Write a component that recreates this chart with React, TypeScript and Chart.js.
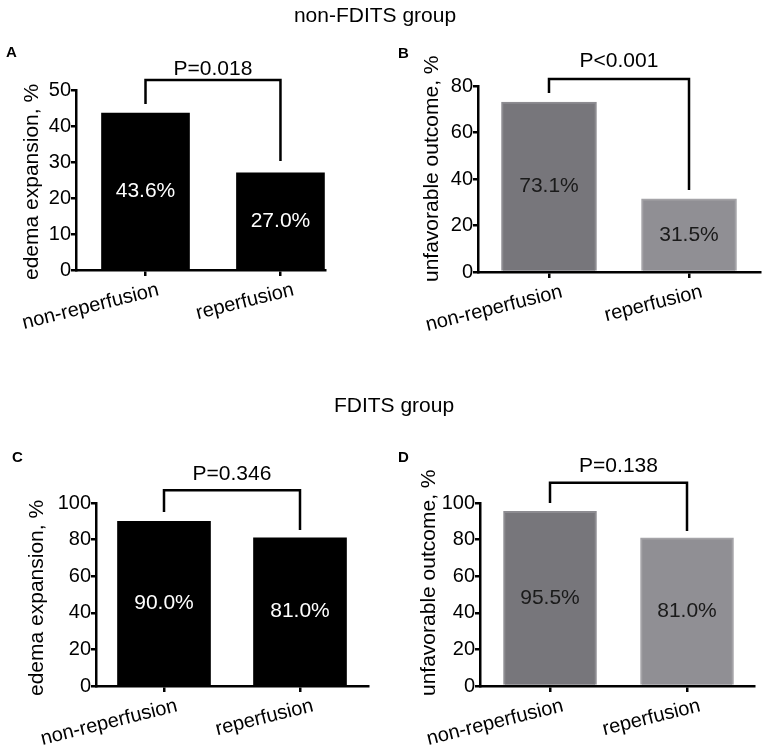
import { useEffect, useRef } from 'react';
import { Chart, registerables } from 'chart.js';

Chart.register(...registerables);

const FONT = "'Liberation Sans', Arial, Helvetica, sans-serif";

// data
const categories = ['non-reperfusion', 'reperfusion'];
const edemaNonFdits = [43.6, 27.0];
const outcomeNonFdits = [73.1, 31.5];
const edemaFdits = [90.0, 81.0];
const outcomeFdits = [95.5, 81.0];
const pValues = ['P=0.018', 'P<0.001', 'P=0.346', 'P=0.138'];
// bracket: top value, and where each leg ends (in axis units)
const bracketTops = [52.8, 83, 107, 111];
const bracketLegs = [[46.1, 30.3], [77, 35.3], [95.1, 85.2], [100, 84.7]];

const panels = [
  {
    letter: 'A', values: edemaNonFdits, yTitle: 'edema expansion, %', yMax: 50, yStep: 10,
    p: pValues[0], bracketTop: bracketTops[0], legs: bracketLegs[0], dark: true,
    left: 0, top: 0, axisW: 76, padTop: 90, padRight: 57, xH: 108, xMin: -0.515, xMax: 1.33,
    barW: 88, titleX: 38, letterPos: [6, 57], pLift: 5,
  },
  {
    letter: 'B', values: outcomeNonFdits, yTitle: 'unfavorable outcome, %', yMax: 80, yStep: 20,
    p: pValues[1], bracketTop: bracketTops[1], legs: bracketLegs[1], dark: false,
    left: 382, top: 0, axisW: 96, padTop: 86, padRight: 4, xH: 106, xMin: -0.507, xMax: 1.507,
    barW: 95, titleX: 56, letterPos: [16, 58], pLift: 12,
  },
  {
    letter: 'C', values: edemaFdits, yTitle: 'edema expansion, %', yMax: 100, yStep: 20,
    p: pValues[2], bracketTop: bracketTops[2], legs: bracketLegs[2], dark: true,
    left: 0, top: 378, axisW: 96, padTop: 125, padRight: 14, xH: 70, xMin: -0.5, xMax: 1.5,
    barW: 93, titleX: 43, letterPos: [12, 84], pLift: 10,
  },
  {
    letter: 'D', values: outcomeFdits, yTitle: 'unfavorable outcome, %', yMax: 100, yStep: 20,
    p: pValues[3], bracketTop: bracketTops[3], legs: bracketLegs[3], dark: false,
    left: 382, top: 378, axisW: 98, padTop: 125, padRight: 10, xH: 70, xMin: -0.511, xMax: 1.489,
    barW: 93, titleX: 53, letterPos: [16, 84], pLift: 11,
  },
];

function BarPanel({ panel }) {
  const chartRef = useRef(null);

  useEffect(() => {
    const canvas = chartRef.current;
    const ctx = canvas.getContext('2d');

    const annotate = {
      id: 'annotate',
      afterDatasetsDraw(chart) {
        const c = chart.ctx;
        const meta = chart.getDatasetMeta(0);
        c.save();
        c.font = `21px ${FONT}`;
        c.textAlign = 'center';
        c.textBaseline = 'middle';
        c.fillStyle = panel.dark ? '#fff' : '#1a1a1a';
        meta.data.forEach((bar, i) => {
          const { x, y, base } = bar.getProps(['x', 'y', 'base'], true);
          c.fillText(panel.values[i].toFixed(1) + '%', x, (y + base) / 2);
        });
        c.restore();
      },
      afterDraw(chart) {
        const c = chart.ctx;
        const xs = chart.scales.x;
        const ys = chart.scales.y;
        const x0 = xs.getPixelForValue(0);
        const x1 = xs.getPixelForValue(1);
        const top = ys.getPixelForValue(panel.bracketTop);
        c.save();
        // significance bracket
        c.strokeStyle = '#000';
        c.lineWidth = 2.5;
        c.beginPath();
        c.moveTo(x0, ys.getPixelForValue(panel.legs[0]));
        c.lineTo(x0, top);
        c.lineTo(x1, top);
        c.lineTo(x1, ys.getPixelForValue(panel.legs[1]));
        c.stroke();
        c.fillStyle = '#000';
        c.font = `21px ${FONT}`;
        c.textAlign = 'center';
        c.textBaseline = 'alphabetic';
        c.fillText(panel.p, (x0 + x1) / 2, top - panel.pLift);
        // y axis title, starting just below the x axis like Prism does
        c.save();
        c.translate(panel.titleX, chart.chartArea.bottom + 10);
        c.rotate(-Math.PI / 2);
        c.textAlign = 'left';
        c.fillText(panel.yTitle, 0, 0);
        c.restore();
        // panel letter
        c.font = `bold 15px ${FONT}`;
        c.textAlign = 'left';
        c.fillText(panel.letter, panel.letterPos[0], panel.letterPos[1]);
        c.restore();
      },
    };

    const chart = new Chart(ctx, {
      type: 'bar',
      data: {
        datasets: [
          {
            data: panel.values.map((v, i) => ({ x: i, y: v })),
            backgroundColor: panel.dark ? '#000' : ['#77767b', '#908f94'],
            borderColor: panel.dark ? '#000' : ['#8d8c91', '#a4a3a7'],
            borderWidth: panel.dark ? 0 : 2,
            barThickness: panel.barW,
          },
        ],
      },
      options: {
        animation: false,
        responsive: false,
        layout: {
          padding: { top: panel.padTop, right: panel.padRight, left: 0, bottom: 0 },
          autoPadding: false,
        },
        plugins: {
          legend: { display: false },
          tooltip: { enabled: false },
        },
        scales: {
          x: {
            type: 'linear',
            min: panel.xMin,
            max: panel.xMax,
            offset: false,
            bounds: 'data',
            afterBuildTicks: (s) => {
              s.ticks = categories.map((_, i) => ({ value: i }));
            },
            afterFit: (s) => {
              s.height = panel.xH;
              s.paddingLeft = 0;
              s.paddingRight = 0;
            },
            grid: { offset: false, drawOnChartArea: false, tickLength: 6, lineWidth: 2.5, color: '#000' },
            border: { color: '#000', width: 2.5 },
            ticks: {
              callback: (v) => categories[v] ?? '',
              minRotation: 14,
              maxRotation: 14,
              labelOffset: 13,
              padding: 2,
              autoSkip: false,
              color: '#000',
              font: { family: FONT, size: 20 },
            },
          },
          y: {
            min: 0,
            max: panel.yMax,
            afterFit: (s) => {
              s.width = panel.axisW;
              s.paddingTop = 0;
              s.paddingBottom = 0;
            },
            grid: { drawOnChartArea: false, tickLength: 5, lineWidth: 2.5, color: '#000' },
            border: { color: '#000', width: 2.5 },
            ticks: {
              stepSize: panel.yStep,
              padding: 0,
              color: '#000',
              font: { family: FONT, size: 20 },
            },
          },
        },
      },
      plugins: [annotate],
    });

    return () => {
      chart.destroy();
    };
  }, [panel]);

  return (
    <canvas
      ref={chartRef}
      width={382}
      height={378}
      style={{ position: 'absolute', left: panel.left, top: panel.top, width: 382, height: 378 }}
    ></canvas>
  );
}

const titleStyle = {
  position: 'absolute',
  width: 200,
  textAlign: 'center',
  font: `21px ${FONT}`,
  lineHeight: '24px',
  color: '#000',
};

export default function App() {
  return (
    <div style={{ position: 'absolute', left: 0, top: 0, width: 765, height: 756, background: '#fff' }}>
      {panels.map((p) => (
        <BarPanel key={p.letter} panel={p} />
      ))}
      <div style={{ ...titleStyle, left: 275, top: 3 }}>non-FDITS group</div>
      <div style={{ ...titleStyle, left: 294, top: 393 }}>FDITS group</div>
    </div>
  );
}
